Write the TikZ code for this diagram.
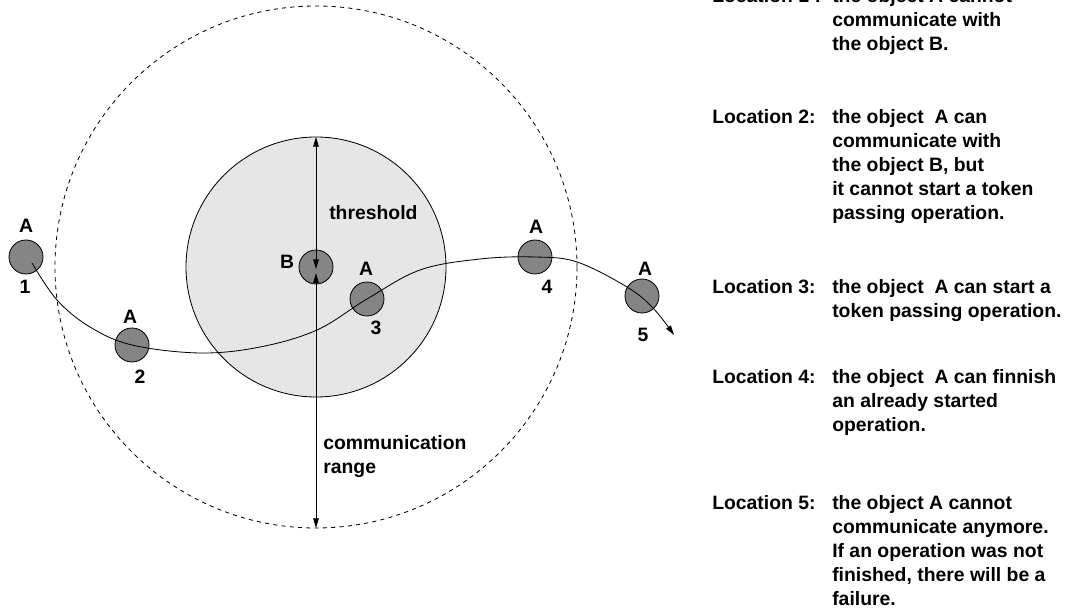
\documentclass[tikz,border=0pt]{standalone}
\usepackage{fontspec}
\setmainfont{Liberation Sans}
\usetikzlibrary{arrows.meta}
\definecolor{zone}{HTML}{E6E6E6}
\definecolor{objgray}{HTML}{858585}
\newcommand{\LabelFont}{\fontsize{14}{17.3}\selectfont\bfseries}

\begin{document}
\begin{tikzpicture}[x=1in,y=1in,>={Triangle[length=7pt,width=4pt]},
    objdot/.style={circle,draw,fill=objgray,minimum size=0.34in,inner sep=0pt,line width=0.6pt},
    tag/.style={font=\LabelFont,inner sep=0pt}]
  \useasboundingbox (0,0) rectangle (10.67,6.14);
  % communication range and threshold zone
  \draw[dashed,line width=0.6pt] (3.16,3.47) circle (2.61);
  \draw[fill=zone,line width=0.6pt] (3.16,3.47) circle (1.30);
  \coordinate (zonetop) at (3.16,4.77);
  \coordinate (rangebot) at (3.16,0.86);
  % objects
  \node[objdot] (objB) at (3.16,3.47) {};
  \foreach \n/\x/\y in {1/0.26/3.57,2/1.32/2.69,3/3.67/3.15,4/5.35/3.57,5/6.42/3.18}
    \node[objdot] (obj\n) at (\x,\y) {};
  \node[tag] (tagB) at (2.87,3.52) {B};
  \foreach \n/\ax/\ay/\nx/\ny in {1/0.26/3.88/0.25/3.27,2/1.30/2.97/1.40/2.37,
      3/3.66/3.45/3.76/2.86,4/5.36/3.87/5.47/3.27,5/6.45/3.45/6.43/2.79}{
    \node[tag] (tagA\n) at (\ax,\ay) {A};
    \node[tag] (num\n) at (\nx,\ny) {\n};
  }
  % radii
  \draw[<->,line width=0.6pt] ([yshift=-1.5pt]objB.center) -- (zonetop);
  \draw[<->,line width=0.6pt] ([yshift=-4.5pt]objB.center) -- (rangebot);
  \node[tag,anchor=west] (thresh) at (3.29,4.01) {threshold};
  \node[tag,anchor=west,align=left] (range) at (3.23,1.575) {communication\\range};
  % path of A
  \draw[->,line width=0.6pt] plot[smooth,tension=0.6] coordinates {(0.32,3.51) (0.57,3.14)
    (0.90,2.87) (obj2.center) (2.00,2.61) (2.60,2.67) (3.17,2.84) (obj3.center)
    (4.20,3.44) (4.80,3.55) (obj4.center) (5.77,3.52) (6.27,3.27) (6.53,3.06) (6.74,2.79)};
  % locations
  \node[tag,anchor=base west] (loc1) at (7.12,6.115) {\begin{tabular}[t]{@{}p{1.2in}@{}l@{}}
    Location 1 : & the object A cannot\\ & communicate with\\ & the object B.\end{tabular}};
  \node[tag,anchor=base west] (loc2) at (7.12,4.905) {\begin{tabular}[t]{@{}p{1.2in}@{}l@{}}
    Location 2: & the object\ \ A can\\ & communicate with\\ & the object B, but\\
    & it cannot start a token\\ & passing operation.\end{tabular}};
  \node[tag,anchor=base west] (loc3) at (7.12,3.205) {\begin{tabular}[t]{@{}p{1.2in}@{}l@{}}
    Location 3: & the object\ \ A can start a\\ & token passing operation.\end{tabular}};
  \node[tag,anchor=base west] (loc4) at (7.12,2.305) {\begin{tabular}[t]{@{}p{1.2in}@{}l@{}}
    Location 4: & the object\ \ A can finnish\\ & an already started\\ & operation.\end{tabular}};
  \node[tag,anchor=base west] (loc5) at (7.12,1.045) {\begin{tabular}[t]{@{}p{1.2in}@{}l@{}}
    Location 5: & the object A cannot\\ & communicate anymore.\\ & If an operation was not\\
    & finished, there will be a\\ & failure.\end{tabular}};
\end{tikzpicture}
\end{document}
